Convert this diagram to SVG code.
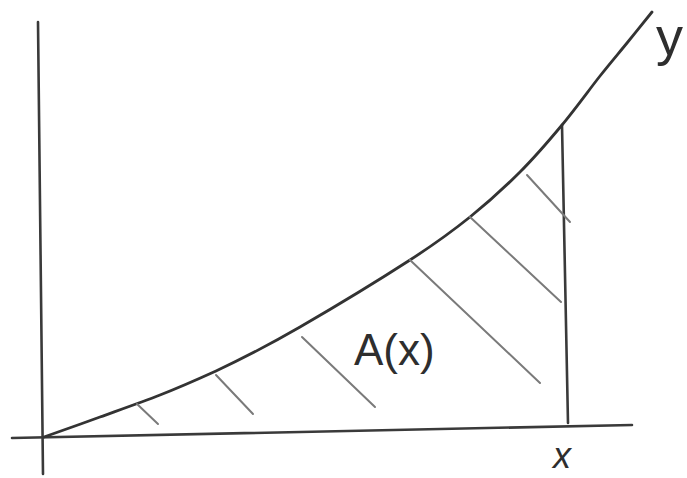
<svg xmlns="http://www.w3.org/2000/svg" width="687" height="478" viewBox="0 0 687 478">
<style>
.axis{stroke:#3a3a3a;stroke-width:2.6;fill:none;stroke-linecap:round}
.curve{stroke:#333;stroke-width:2.8;fill:none;stroke-linecap:round}
.hatch{stroke:#7a7a7a;stroke-width:2;stroke-linecap:round}
.lbl{font-family:"Liberation Sans",Arial,sans-serif;fill:#2e2e2e}
</style>
<rect width="687" height="478" fill="#fff"/>
<g id="axes">
<line class="axis" x1="38" y1="22" x2="43" y2="474"/>
<line class="axis" x1="12" y1="438" x2="632" y2="425"/>
<line class="axis" x1="562" y1="125" x2="568" y2="423"/>
</g>
<g id="curve">
<path class="curve" d="M44,437 C53.3,433.7 80.7,424 100,417 C119.3,410 140.7,402.5 160,395 C179.3,387.5 194,381 216,371 C239.3,360 267.7,345.7 300,327 C332.3,308.3 381.7,278.3 410,260 C438.3,241.7 451.7,231.7 470,217 C488.3,202.3 504.7,187.3 520,172 C535.3,156.7 548.7,141 562,125 C575.3,109 589.2,89.7 600,76 C610.8,62.3 618.3,53.7 627,43 C635.7,32.3 647.8,17.2 652,12"/>
</g>
<g id="hatching">
<line class="hatch" x1="137" y1="404" x2="158" y2="424"/>
<line class="hatch" x1="216" y1="375" x2="253" y2="414"/>
<line class="hatch" x1="302" y1="337" x2="375" y2="407"/>
<line class="hatch" x1="410" y1="260" x2="540" y2="383"/>
<line class="hatch" x1="470" y1="217" x2="561" y2="302"/>
<line class="hatch" x1="527" y1="175" x2="570" y2="222"/>
</g>
<g id="labels">
<text class="lbl" x="354" y="365" font-size="44">A(x)</text>
<text class="lbl" x="656" y="55" font-size="54">y</text>
<text class="lbl" x="553" y="468" font-size="36" font-style="italic">x</text>
</g>
</svg>
